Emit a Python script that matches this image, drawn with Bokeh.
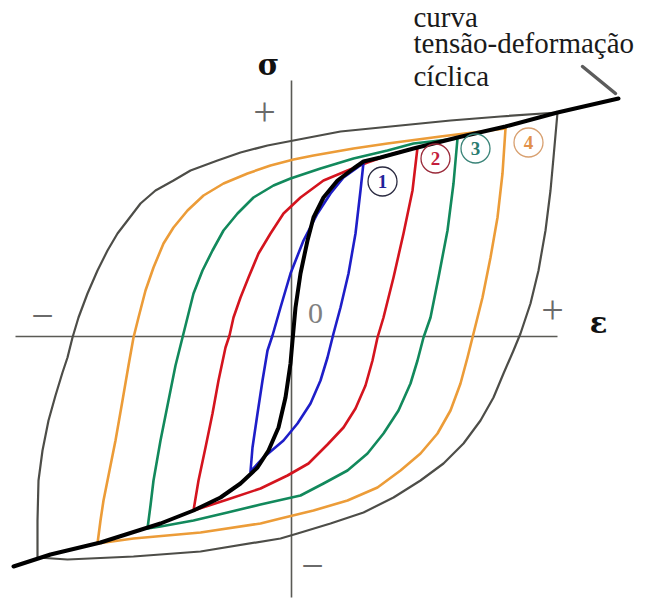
from bokeh.plotting import figure
from bokeh.models import Range1d
from bokeh.embed import file_html
from bokeh.resources import INLINE
from bokeh.core.properties import value

# Strain (eps) and stress (sig) in arbitrary units, origin at the axis crossing.

# Cyclic stress-strain curve through the loop tips
cyclic_eps = [-278, -241, -191, -131, -98, -71, -51, -34, -23, -13, -6, -1, 1, 4, 9, 16, 22, 32,
              46, 62, 72, 89, 122, 166, 214, 266, 327]
cyclic_sig = [-230, -218, -206, -187, -174, -161, -147, -131, -114, -91, -61, -27, -4, 29, 63, 96,
              119, 139, 156, 168, 175, 179, 188, 199, 210, 224, 238]

# Stabilised hysteresis loops: rising branch (compressive tip -> tensile tip)
# and falling branch (tensile tip -> compressive tip)
loop1_rise_eps = [-41, -39, -34, -29, -24, -19, -11, -1, 12, 26, 39, 52, 66, 72]
loop1_rise_sig = [-135, -111, -77, -44, -14, 1, 29, 63, 96, 123, 143, 159, 169, 174]
loop1_fall_eps = [72, 69, 64, 57, 49, 42, 36, 29, 19, 6, -8, -28, -41]
loop1_fall_sig = [174, 146, 103, 63, 29, 3, -21, -44, -67, -87, -104, -121, -135]

loop2_rise_eps = [-98, -93, -86, -79, -73, -66, -62, -58, -51, -43, -33, -21, -8, 9, 32, 56, 76, 102, 126]
loop2_rise_sig = [-174, -144, -111, -77, -44, -11, 1, 19, 39, 59, 83, 103, 123, 139, 156, 166, 174, 183, 189]
loop2_fall_eps = [126, 121, 112, 102, 92, 86, 81, 74, 64, 52, 36, 17, -4, -31, -64, -98]
loop2_fall_sig = [189, 146, 103, 59, 19, -1, -24, -49, -72, -91, -108, -127, -139, -152, -163, -174]

loop3_rise_eps = [-144, -141, -138, -131, -123, -116, -109, -104, -98, -89, -79, -68, -54, -38, -18,
                  -1, 29, 62, 96, 122, 166]
loop3_rise_sig = [-192, -169, -144, -104, -64, -29, -1, 19, 43, 66, 86, 106, 123, 139, 151,
                  158, 168, 178, 186, 193, 198]
loop3_fall_eps = [166, 162, 156, 147, 139, 132, 126, 119, 107, 92, 76, 56, 32, 9, -31, -64, -98, -131, -144]
loop3_fall_sig = [198, 153, 106, 59, 19, -1, -24, -47, -74, -97, -117, -134, -147, -159, -168, -176,
                  -184, -190, -192]

loop4_rise_eps = [-194, -191, -188, -184, -176, -169, -163, -158, -153, -146, -138, -128, -118, -104,
                  -88, -68, -44, -21, 2, 22, 62, 96, 149, 214]
loop4_rise_sig = [-207, -184, -164, -144, -104, -64, -29, -1, 19, 46, 69, 93, 109, 126,
                  141, 153, 163, 171, 177, 181, 188, 193, 200, 208]
loop4_fall_eps = [214, 211, 206, 199, 191, 181, 176, 169, 159, 146, 129, 109, 86, 56, 22, -11, -31,
                  -91, -158, -194]
loop4_fall_sig = [208, 163, 119, 79, 39, -1, -21, -47, -74, -97, -117, -134, -151, -164, -174, -182,
                  -187, -196, -202, -207]

outer_rise_eps = [-254, -254, -253, -249, -243, -236, -229, -224, -219, -213, -204, -194, -184, -174,
                  -164, -151, -136, -118, -101, -74, -51, -24, 2, 49, 109, 159, 209, 266]
outer_rise_sig = [-221, -184, -144, -114, -84, -59, -36, -21, -1, 19, 43, 66, 86, 103,
                  116, 133, 146, 156, 166, 176, 184, 191, 196, 205, 211, 216, 220, 224]
outer_fall_eps = [266, 262, 259, 254, 247, 239, 229, 222, 212, 202, 189, 172, 152, 129, 102, 72, 39,
                  6, -11, -91, -158, -224, -254]
outer_fall_sig = [224, 179, 146, 106, 66, 33, 3, -14, -37, -61, -84, -107, -127, -144, -161, -176, -187,
                  -197, -202, -215, -220, -223, -221]

loop_colors = ["#4d4d48", "#ec9c38", "#12895c", "#d4141e", "#1e1ec8"]
loop_widths = [2.2, 2.6, 2.6, 2.6, 2.6]

# Loop number tags
tag_text = ["1", "2", "3", "4"]
tag_eps = [91, 144, 184, 237]
tag_sig = [155, 178, 188, 194]
tag_text_colors = ["#22229a", "#c41e3c", "#2a7c70", "#e2904a"]
tag_ring_colors = ["#2a2a40", "#9a2a3a", "#3a8478", "#d8a070"]

# Axis extents
eps_axis = [-276, 266]
sig_axis = [-261, 256]

W, H = 648, 602
p = figure(width=W, height=H, x_range=Range1d(-291, 357), y_range=Range1d(-266, 336),
           x_axis_type=None, y_axis_type=None, toolbar_location=None,
           output_backend="svg", min_border=0)
p.outline_line_color = None
p.background_fill_color = "white"
p.border_fill_color = "white"

# Axes
p.line(eps_axis, [0, 0], line_color="#5a5a55", line_width=1.6)
p.line([0, 0], sig_axis, line_color="#5a5a55", line_width=1.6)

loops = [
    (outer_rise_eps + outer_fall_eps[1:], outer_rise_sig + outer_fall_sig[1:]),
    (loop4_rise_eps + loop4_fall_eps[1:], loop4_rise_sig + loop4_fall_sig[1:]),
    (loop3_rise_eps + loop3_fall_eps[1:], loop3_rise_sig + loop3_fall_sig[1:]),
    (loop2_rise_eps + loop2_fall_eps[1:], loop2_rise_sig + loop2_fall_sig[1:]),
    (loop1_rise_eps + loop1_fall_eps[1:], loop1_rise_sig + loop1_fall_sig[1:]),
]
for (xs, ys), c, w in zip(loops, loop_colors, loop_widths):
    p.line(xs, ys, line_color=c, line_width=w, line_join="round", line_cap="round")

# Cyclic curve
p.line(cyclic_eps, cyclic_sig, line_color="black", line_width=4, line_join="round", line_cap="round")

# Pointer from the caption to the cyclic curve
p.line([291, 324], [270, 243], line_color="#5c5c5c", line_width=3.5, line_cap="round")

# Loop number tags
p.scatter(tag_eps, tag_sig, marker="circle", size=29, fill_color=None,
          line_color=tag_ring_colors, line_width=1.3)
p.text(tag_eps, tag_sig, text=tag_text, text_color=tag_text_colors,
       text_font=value("Liberation Serif"), text_font_size="19px", text_font_style="bold",
       text_align="center", text_baseline="middle")

# Sign marks and origin
sign_text = ["+", "\u2212", "+", "\u2212"]
sign_eps = [-27, -249, 261, 21]
sign_sig = [225, 21, 27, -229]
p.text(sign_eps, sign_sig, text=sign_text, text_color="#6a6a6a",
       text_font=value("Liberation Serif"), text_font_size="40px",
       text_align="center", text_baseline="middle")
p.text([24], [23], text=["0"], text_color="#808080",
       text_font=value("Liberation Serif"), text_font_size="30px",
       text_align="center", text_baseline="middle")

# Axis symbols
p.text([-23, 307], [272, 14], text=["\u03c3", "\u03b5"], text_color="#111111",
       text_font=value("DejaVu Serif"), text_font_size="29px", text_font_style="bold",
       text_align="center", text_baseline="middle")

# Caption
caption = ["curva", "tens\u00e3o-deforma\u00e7\u00e3o", "c\u00edclica"]
p.text([122, 122, 122], [320, 294, 261], text=caption, text_color="#1a1a1a",
       text_font=value("Liberation Serif"), text_font_size="29px",
       text_align="left", text_baseline="alphabetic")

open("out.html", "w").write(file_html(p, INLINE))
